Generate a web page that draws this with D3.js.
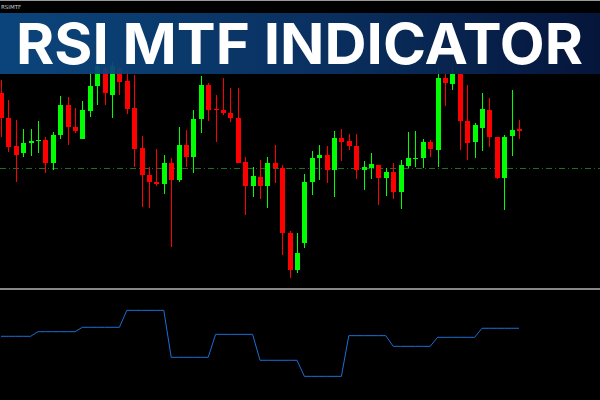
<!DOCTYPE html>
<html>
<head>
<meta charset="utf-8">
<script src="https://cdn.jsdelivr.net/npm/d3@7"></script>
<style>
html,body{margin:0;padding:0;background:#000;}
svg{display:block;}
</style>
</head>
<body>
<svg id="chart" width="600" height="400"></svg>
<script>
// ---- data ----
const title = "RSI MTF INDICATOR";
const symbolLabel = "RSIMTF";
const openP  = [1.1696,1.1671,1.1643,1.1636,1.1646,1.1648,1.1649,1.1626,1.1654,1.1684,1.1662,1.1650,1.1678,1.1703,1.1721,1.1694,1.1721,1.1708,1.1681,1.1641,1.1614,1.1607,1.1605,1.1626,1.1609,1.1644,1.1632,1.1670,1.1704,1.1680,1.1679,1.1676,1.1671,1.1627,1.1603,1.1612,1.1603,1.1626,1.1621,1.1556,1.1519,1.1546,1.1607,1.1631,1.1634,1.1619,1.1651,1.1648,1.1643,1.1619,1.1621,1.1624,1.1611,1.1617,1.1597,1.1623,1.1630,1.1631,1.1647,1.1639,1.1711,1.1705,1.1715,1.1668,1.1647,1.1661,1.1679,1.1652,1.1611,1.1653,1.1660];
const highP  = [1.1709,1.1689,1.1669,1.1660,1.1660,1.1668,1.1652,1.1657,1.1693,1.1692,1.1681,1.1688,1.1717,1.1725,1.1723,1.1727,1.1723,1.1719,1.1714,1.1653,1.1622,1.1640,1.1634,1.1631,1.1662,1.1659,1.1679,1.1713,1.1706,1.1694,1.1711,1.1701,1.1701,1.1632,1.1622,1.1629,1.1632,1.1644,1.1624,1.1558,1.1556,1.1615,1.1638,1.1644,1.1643,1.1658,1.1660,1.1655,1.1655,1.1628,1.1636,1.1624,1.1621,1.1626,1.1629,1.1657,1.1658,1.1650,1.1649,1.1721,1.1716,1.1722,1.1717,1.1704,1.1666,1.1696,1.1691,1.1652,1.1654,1.1699,1.1669];
const lowP   = [1.1652,1.1637,1.1607,1.1632,1.1633,1.1636,1.1616,1.1619,1.1650,1.1644,1.1656,1.1650,1.1672,1.1684,1.1684,1.1671,1.1694,1.1675,1.1622,1.1582,1.1581,1.1603,1.1595,1.1542,1.1607,1.1622,1.1616,1.1656,1.1668,1.1647,1.1674,1.1667,1.1626,1.1574,1.1592,1.1590,1.1581,1.1606,1.1534,1.1511,1.1516,1.1541,1.1594,1.1609,1.1606,1.1592,1.1628,1.1639,1.1610,1.1599,1.1610,1.1584,1.1593,1.1590,1.1580,1.1621,1.1622,1.1621,1.1632,1.1622,1.1683,1.1699,1.1639,1.1629,1.1631,1.1638,1.1642,1.1610,1.1579,1.1633,1.1650];
const closeP = [1.1671,1.1642,1.1634,1.1646,1.1648,1.1649,1.1626,1.1654,1.1684,1.1662,1.1658,1.1679,1.1703,1.1723,1.1696,1.1723,1.1707,1.1680,1.1640,1.1614,1.1607,1.1605,1.1626,1.1609,1.1644,1.1632,1.1670,1.1704,1.1679,1.1679,1.1676,1.1671,1.1626,1.1603,1.1613,1.1603,1.1626,1.1621,1.1556,1.1519,1.1536,1.1607,1.1631,1.1634,1.1619,1.1651,1.1647,1.1643,1.1619,1.1622,1.1625,1.1611,1.1617,1.1597,1.1624,1.1631,1.1631,1.1647,1.1640,1.1711,1.1706,1.1715,1.1668,1.1646,1.1664,1.1680,1.1652,1.1611,1.1652,1.1659,1.1658];
const rsiMTF = [57.9,57.9,57.9,57.9,57.9,
  62.1,62.1,62.1,62.1,62.1,62.1,
  66.1,66.1,66.1,66.1,66.1,66.1,
  81.5,81.5,81.5,81.5,81.5,81.5,
  38.8,38.8,38.8,38.8,38.8,38.8,
  59.7,59.7,59.7,59.7,59.7,59.7,
  36.1,36.1,36.1,36.1,36.1,36.1,
  21.5,21.5,21.5,21.5,21.5,21.5,
  58.5,58.5,58.5,58.5,58.5,58.5,
  48.8,48.8,48.8,48.8,48.8,48.8,
  57.0,57.0,57.0,57.0,57.0,57.0,
  65.2,65.2,65.2,65.2,65.2,65.2];
const levelPrice = 1.1621;
const priceDomain = [1.1500, 1.1789];
const rsiDomain = [0, 100];

// ---- drawing ----
const svg = d3.select("#chart");
const W = 600, H = 400;
const candles = openP.map((o, i) => ({i, o, h: highP[i], l: lowP[i], c: closeP[i]}));

const x = d3.scaleLinear().domain([0, candles.length - 1]).range([1, 519]);
const y = d3.scaleLinear().domain(priceDomain).range([289, 0]);
const yr = d3.scaleLinear().domain(rsiDomain).range([400, 290]);

svg.append("rect").attr("width", W).attr("height", H).attr("fill", "#000");

// level line (dash-dot)
svg.append("line")
  .attr("x1", 0).attr("x2", W)
  .attr("y1", Math.round(y(levelPrice)) + 0.5).attr("y2", Math.round(y(levelPrice)) + 0.5)
  .attr("stroke", "#1d6e1d").attr("stroke-width", 1)
  .attr("stroke-dasharray", "6,3,1,3");

const up = "#00ff00", dn = "#ff0000";
const g = svg.append("g");
const cg = g.selectAll("g.c").data(candles).join("g").attr("class", "c");
cg.append("line")
  .attr("x1", d => Math.round(x(d.i)) + 0.5).attr("x2", d => Math.round(x(d.i)) + 0.5)
  .attr("y1", d => y(d.h)).attr("y2", d => y(d.l))
  .attr("stroke", d => d.c >= d.o ? up : dn).attr("stroke-width", 1);
cg.append("rect")
  .attr("x", d => Math.round(x(d.i)) - 2)
  .attr("width", 5)
  .attr("y", d => y(Math.max(d.o, d.c)))
  .attr("height", d => Math.max(1, Math.abs(y(d.o) - y(d.c))))
  .attr("fill", d => d.c >= d.o ? up : dn);

// separator
svg.append("line").attr("x1", 0).attr("x2", W).attr("y1", 289).attr("y2", 289)
  .attr("stroke", "#b4b4b4").attr("stroke-width", 1.5);

// RSI MTF line
svg.append("path")
  .datum(rsiMTF)
  .attr("d", d3.line().x((d, i) => x(i)).y(d => yr(d)))
  .attr("fill", "none").attr("stroke", "#1a6fd6").attr("stroke-width", 1);

// top border and label
svg.append("line").attr("x1", 0).attr("x2", W).attr("y1", 0.5).attr("y2", 0.5)
  .attr("stroke", "#9a9a9a").attr("stroke-width", 1);
svg.append("rect").attr("x", 0).attr("y", 1).attr("width", W).attr("height", 12).attr("fill", "#000");
svg.append("text").attr("x", 1).attr("y", 8.5).text(symbolLabel)
  .attr("font-family", "DejaVu Sans, sans-serif").attr("font-size", 5.5).attr("fill", "#cfcfcf");

// banner
const defs = svg.append("defs");
const grad = defs.append("linearGradient").attr("id", "bannerGrad").attr("x1", "0%").attr("x2", "100%");
grad.append("stop").attr("offset", "0%").attr("stop-color", "#0c4a84");
grad.append("stop").attr("offset", "55%").attr("stop-color", "#0a3366");
grad.append("stop").attr("offset", "100%").attr("stop-color", "#06173f");
svg.append("rect").attr("x", 0).attr("y", 13).attr("width", W).attr("height", 61)
  .attr("fill", "url(#bannerGrad)").attr("opacity", 0.93);
svg.append("text").attr("x", 16).attr("y", 63.5).text(title)
  .attr("font-family", "Inter, 'Open Sans', sans-serif").attr("font-weight", 700)
  .attr("font-size", 56).attr("fill", "#ffffff")
  .attr("textLength", 567).attr("lengthAdjust", "spacingAndGlyphs");
</script>
</body>
</html>
